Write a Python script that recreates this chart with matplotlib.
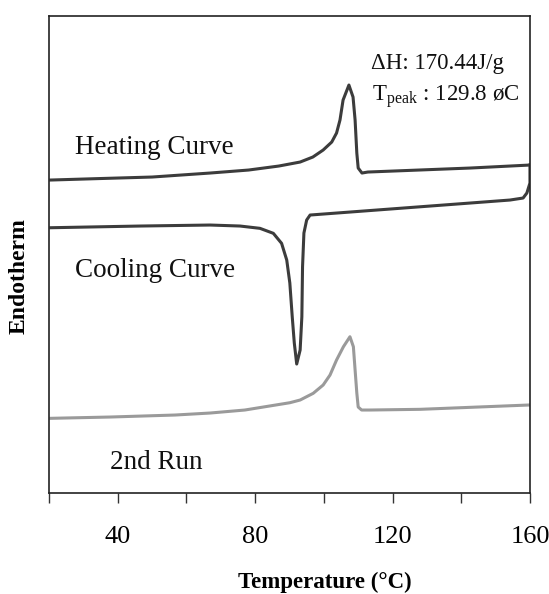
import numpy as np
import matplotlib
matplotlib.use('Agg')
import matplotlib.pyplot as plt

plt.rcParams['font.family'] = 'Liberation Serif'
plt.rcParams['mathtext.fontset'] = 'custom'
plt.rcParams['mathtext.rm'] = 'Liberation Serif'

# heating curve (temperature, heat flow in arbitrary units)
heat_t = [20.5, 35, 50, 66.9, 78.1, 86.9, 93.1, 96.8, 99.8, 102.3, 103.7, 104.7,
          105.6, 107.3, 108.5, 109.1, 109.6, 110.0, 111.1, 112.8, 142.6, 160.0]
heat_v = [313, 314.5, 316, 320, 323, 327, 331, 336, 343, 351, 360, 373,
          393, 408, 396, 373, 340, 325, 320, 321, 325, 328]

# cooling curve
cool_t = [20.5, 46.5, 66.9, 75.6, 81.4, 85.3, 87.7, 89.2, 90.1, 90.8, 91.4, 92.1,
          93.1, 93.6, 93.8, 94.2, 95.0, 96.0, 142.6, 154.2, 158.0, 159.1, 160.0, 160.0]
cool_v = [265.3, 267, 268, 267, 264.7, 259.7, 249.7, 233, 210, 176.3, 150, 129,
          143, 176.3, 226.3, 260, 273, 278, 290, 293, 295, 300, 310, 328]

# second heating run
run2_t = [20.5, 37.8, 56.7, 66.9, 77.0, 90.1, 93.1, 96.9, 99.8, 101.8, 103.7, 105.7,
          107.6, 108.6, 109.1, 109.6, 110.0, 111.0, 113.4, 128.0, 159.6]
run2_v = [74.7, 76, 78, 80, 83, 90.3, 93, 99.7, 108, 118, 133, 146.3,
          156.3, 146.3, 123, 100, 86, 83, 83, 83.7, 88]

xticks = [20, 40, 60, 80, 100, 120, 140, 160]
xticklabels = ['', '40', '', '80', '', '120', '', '160']

fig = plt.figure(figsize=(5.49, 5.94), dpi=100)
ax = fig.add_axes([0.0893, 0.170, 0.876, 0.803])

ax.plot(heat_t, heat_v, color='#3c3c3c', lw=2.2, solid_joinstyle='round')
ax.plot(cool_t, cool_v, color='#3c3c3c', lw=2.2, solid_joinstyle='round')
ax.plot(run2_t, run2_v, color='#9a9a9a', lw=2.2, solid_joinstyle='round')

ax.set_xlim(20, 160)
ax.set_ylim(0, 477)
ax.set_xticks(xticks)
ax.set_xticklabels(xticklabels)
ax.set_yticks([])
ax.tick_params(axis='x', direction='out', length=7.5, width=1, pad=16,
               labelsize=19, color='#333333')
for s in ax.spines.values():
    s.set_linewidth(1.2)
    s.set_color('#222222')

ax.text(27.6, 346, 'Heating Curve', fontsize=19.5, va='center', ha='left', color='#111111')
ax.text(27.6, 223, 'Cooling Curve', fontsize=19.5, va='center', ha='left', color='#111111')
ax.text(37.8, 31, '2nd Run', fontsize=19.5, va='center', ha='left', color='#111111')
ax.text(113.7, 430, '\u0394H: 170.44J/g', fontsize=16.5, va='center', ha='left', color='#111111')
ax.text(113.9, 396, r'T$_{\mathrm{peak}}$ : 129.8 ' + '\u00f8C', fontsize=16.5,
        va='center', ha='left', color='#111111')

ax.set_xlabel('Temperature (\u00b0C)', fontsize=16.5, fontweight='bold')
ax.xaxis.set_label_coords(0.574, -0.165)
ax.set_ylabel('Endotherm', fontsize=17, fontweight='bold')
ax.yaxis.set_label_coords(-0.04, 0.455)

fig.savefig('out.png', dpi=100)
